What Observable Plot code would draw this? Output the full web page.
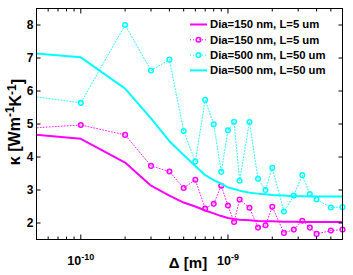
<!DOCTYPE html>
<html><head><meta charset="utf-8">
<script src="https://cdn.jsdelivr.net/npm/d3@7"></script>
<script src="https://cdn.jsdelivr.net/npm/@observablehq/plot@0.6"></script>
<style>
body{margin:0;background:#fff}
svg{font-family:"Liberation Sans",Arial,Helvetica,sans-serif}
</style>
</head><body><div id="chart"></div>
<script>
// Δ [m]
const delta = [4e-11, 1e-10, 2e-10, 3e-10, 4e-10, 5e-10, 6e-10, 7e-10, 8e-10, 9e-10, 1e-9, 1.1e-9, 1.2e-9, 1.4e-9, 1.6e-9, 1.8e-9, 2e-9, 2.4e-9, 2.8e-9, 3.2e-9, 3.6e-9, 4e-9, 5e-9, 6e-9];
// κ series
const magSolid = [4.71, 4.55, 3.83, 3.13, 2.83, 2.62, 2.50, 2.38, 2.29, 2.21, 2.15, 2.12, 2.10, 2.08, 2.06, 2.05, 2.05, 2.04, 2.04, 2.03, 2.03, 2.03, 2.03, 2.03];
const magDot   = [4.86, 4.97, 4.67, 3.73, 3.56, 3.06, 3.31, 2.44, 2.58, 3.13, 2.53, 2.03, 2.71, 2.46, 1.86, 1.93, 2.49, 1.70, 1.80, 2.07, 1.86, 1.67, 1.77, 1.80];
const cyanDot  = [5.88, 5.64, 8.00, 6.62, 6.95, 4.79, 3.86, 5.73, 4.99, 3.55, 4.81, 5.07, 3.28, 5.06, 3.34, 3.00, 3.67, 2.35, 2.83, 3.45, 2.88, 2.71, 2.47, 2.48];
const cyanSolid= [7.17, 7.02, 6.07, 5.17, 4.48, 4.06, 3.73, 3.45, 3.30, 3.19, 3.08, 3.03, 2.98, 2.92, 2.89, 2.87, 2.85, 2.83, 2.81, 2.81, 2.80, 2.80, 2.80, 2.80];

const seriesLabels = ["Dia=150 nm, L=5 um", "Dia=150 nm, L=5 um", "Dia=500 nm, L=50 um", "Dia=500 nm, L=50 um"];
const seriesColors = ["#ff00ff", "#ff00ff", "#00ffff", "#00ffff"];
const seriesDotted = [false, true, true, false];

const xDomain = [5e-11, 6e-9];
const yDomain = [1.5, 8.5];
const xMajor = [1e-10, 1e-9];
const xMinor = [6e-11, 7e-11, 8e-11, 9e-11, 2e-10, 3e-10, 4e-10, 5e-10, 6e-10, 7e-10, 8e-10, 9e-10, 2e-9, 3e-9, 4e-9, 5e-9];
const yMajor = [2, 3, 4, 5, 6, 7, 8];
const xTitle = "Δ [m]";
const yTitleParts = [["κ [Wm", false], ["-1", true], ["K", false], ["-1", true], ["]", false]];

const mk = (ys) => delta.map((x, i) => ({x, y: ys[i]}));
const data = [mk(magSolid), mk(magDot), mk(cyanDot), mk(cyanSolid)];
const inDomain = d => d.x >= xDomain[0] && d.x <= xDomain[1];

const marks = [];
data.forEach((d, i) => {
  if (seriesDotted[i]) {
    marks.push(Plot.line(d, {x: "x", y: "y", stroke: seriesColors[i], strokeWidth: 1, strokeDasharray: "1,2", strokeOpacity: 0.85, clip: true}));
    marks.push(Plot.dot(d, {x: "x", y: "y", filter: inDomain, r: 2.3, stroke: seriesColors[i], strokeWidth: 1.5, fill: "none"}));
  } else {
    marks.push(Plot.line(d, {x: "x", y: "y", stroke: seriesColors[i], strokeWidth: 2, clip: true}));
  }
});

const blank = () => "";
const chart = Plot.plot({
  width: 353, height: 275,
  marginLeft: 36, marginRight: 11, marginTop: 8, marginBottom: 36,
  style: {background: "white", color: "black", fontSize: "12px", fontWeight: "bold", fontFamily: "Liberation Sans, Arial, sans-serif"},
  x: {type: "log", domain: xDomain},
  y: {domain: yDomain},
  marks: [
    ...marks,
    Plot.frame({stroke: "black", strokeWidth: 1}),
    Plot.axisX(xMajor, {anchor: "bottom", tickSize: 0, tickPadding: 17, fontSize: 12, fontWeight: "bold", tickFormat: d => "10^" + Math.round(Math.log10(d)), label: null}),
    Plot.axisX(xMajor, {anchor: "bottom", tickSize: -4.5, tickFormat: blank, label: null}),
    Plot.axisX(xMinor, {anchor: "bottom", tickSize: -2.5, tickFormat: blank, label: null}),
    Plot.axisX(xMajor, {anchor: "top", tickSize: -4.5, tickFormat: blank, label: null}),
    Plot.axisX(xMinor, {anchor: "top", tickSize: -2.5, tickFormat: blank, label: null}),
    Plot.axisY(yMajor, {anchor: "left", tickSize: 0, tickPadding: 3, fontSize: 12, fontWeight: "bold", label: null}),
    Plot.axisY(yMajor, {anchor: "left", tickSize: -4.5, tickFormat: blank, label: null}),
    Plot.axisY(yMajor, {anchor: "right", tickSize: -4.5, tickFormat: blank, label: null})
  ]
});
document.getElementById("chart").appendChild(chart);

const svg = d3.select(chart);
// superscript exponents on x tick labels
svg.selectAll('g[aria-label="x-axis tick label"] text').each(function() {
  const t = d3.select(this); const s = t.text();
  if (!s.includes("^")) return;
  const [b, e] = s.split("^");
  t.text(b).attr("font-size", 12.5);
  t.append("tspan").attr("dy", "-0.55em").attr("font-size", 9).text(e);
});

// axis titles
svg.append("text").attr("x", 188).attr("y", 262).attr("text-anchor", "middle").attr("dominant-baseline", "central")
  .attr("font-size", 15).attr("font-weight", "bold").text(xTitle);
const yl = svg.append("text").attr("transform", "translate(14,122) rotate(-90)").attr("text-anchor", "middle")
  .attr("dy", "0.35em").attr("font-size", 16).attr("font-weight", "bold");
let raised = false;
yTitleParts.forEach(([s, sup]) => {
  const ts = yl.append("tspan").text(s);
  if (sup && !raised) { ts.attr("dy", "-0.45em").attr("font-size", 12); raised = true; }
  else if (!sup && raised) { ts.attr("dy", "0.45em"); raised = false; }
  else if (sup) ts.attr("font-size", 12);
});

// legend
const lg = svg.append("g").attr("text-anchor", "start");
seriesLabels.forEach((lab, i) => {
  const y = 24.5 + 15.3 * i;
  const g = lg.append("g");
  g.append("line").attr("x1", 190).attr("x2", 207).attr("y1", y).attr("y2", y)
    .attr("stroke", seriesColors[i]).attr("stroke-width", seriesDotted[i] ? 1 : 2)
    .attr("stroke-dasharray", seriesDotted[i] ? "1,2" : null);
  if (seriesDotted[i]) g.append("circle").attr("cx", 198.5).attr("cy", y).attr("r", 2.3)
    .attr("fill", "none").attr("stroke", seriesColors[i]).attr("stroke-width", 1.5);
  g.append("text").attr("x", 210).attr("y", y).attr("dy", "0.35em").attr("font-size", 11.3)
    .attr("text-anchor", "start").attr("font-weight", "bold").text(lab);
});
</script>
</body></html>
